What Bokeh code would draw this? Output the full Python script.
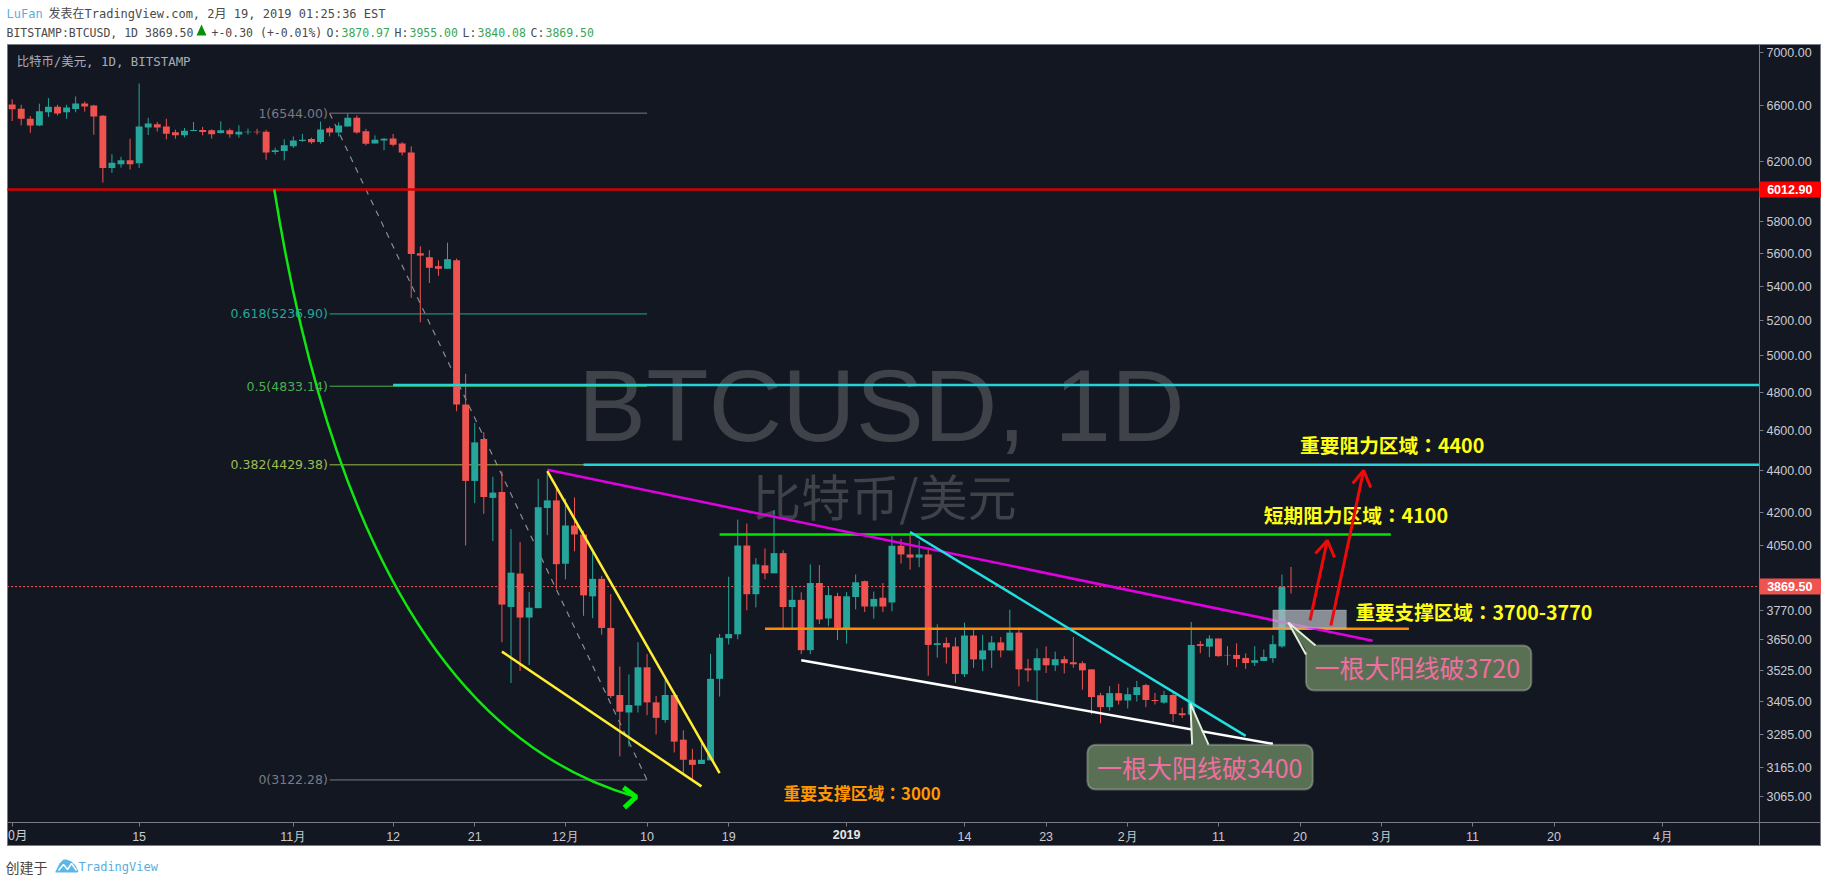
from bokeh.plotting import figure
from bokeh.layouts import column
from bokeh.models import Label, BoxAnnotation, FixedTicker, NumeralTickFormatter
from bokeh.embed import file_html
from bokeh.resources import INLINE

# ---------- data ----------
open_ = [6608,6576,6503,6455,6550,6590,6550,6575,6614,6599,6526,6158,6183,6210,6190,6441,6463,6448,6407,6385,
         6416,6423,6421,6402,6421,6390,6407,6410,6410,6268,6275,6308,6345,6359,6338,6436,6405,6448,6510,6414,
         6328,6349,6363,6328,6265,5601,5577,5522,5506,5558,4736,4351,4558,4270,4298,3783,3926,3739,3778,4222,
         4258,3969,4141,4100,3828,3903,3696,3431,3365,3391,3538,3403,3337,3431,3265,3193,3178,3191,3493,3654,
         3670,4050,3837,3962,3927,4016,3783,3813,3606,3885,3735,3829,3693,3825,3893,3785,3822,3802,4049,4010,
         3996,4010,3627,3635,3621,3511,3665,3569,3605,3637,3605,3677,3534,3526,3574,3546,3570,3558,3554,3530,
         3430,3385,3438,3410,3431,3469,3412,3402,3431,3362,3357,3630,3620,3653,3587,3587,3575,3556,3563,3574,
         3621,3870.97]
high = [6645,6605,6523,6613,6654,6605,6605,6666,6629,6605,6530,6252,6234,6361,6763,6510,6480,6503,6425,6437,
        6480,6445,6428,6485,6433,6456,6433,6431,6424,6298,6357,6377,6395,6368,6483,6448,6478,6540,6527,6431,
        6384,6366,6395,6337,6307,5645,5620,5558,5668,5569,4900,4640,4593,4371,4397,4124,4066,3846,4361,4387,
        4314,4266,4272,4118,4024,3916,3838,3541,3510,3638,3591,3427,3489,3434,3299,3232,3258,3591,3671,3912,
        4168,4150,3994,4037,4213,4029,3870,3845,3966,3963,3867,3843,3846,3922,3896,3848,3885,4094,4080,4103,
        4072,4041,3711,3657,3657,3718,3689,3668,3663,3659,3771,3698,3571,3613,3621,3600,3582,3659,3562,3530,
        3439,3465,3474,3459,3485,3474,3439,3447,3439,3383,3721,3643,3666,3653,3622,3633,3593,3622,3609,3666,
        3922,3955]
low = [6487,6456,6403,6450,6516,6527,6503,6550,6555,6389,6059,6124,6160,6147,6158,6387,6412,6356,6361,6371,
       6416,6385,6361,6397,6368,6368,6390,6390,6214,6251,6210,6296,6338,6325,6326,6377,6377,6448,6396,6314,
       6328,6280,6307,6244,5331,5188,5420,5463,5506,4701,4050,4245,4195,4070,3638,3477,3524,3547,3778,4097,
       3858,3901,4024,3746,3736,3668,3420,3205,3240,3365,3355,3284,3327,3219,3142,3123,3178,3191,3425,3629,
       3650,3769,3781,3901,3927,3689,3692,3590,3590,3712,3703,3647,3632,3773,3762,3734,3762,3765,3970,3943,
       3954,3505,3576,3553,3478,3500,3536,3523,3536,3577,3605,3464,3482,3406,3516,3523,3514,3536,3451,3358,
       3325,3372,3395,3380,3406,3385,3395,3398,3330,3345,3345,3594,3578,3580,3546,3539,3532,3543,3563,3556,
       3616,3840.08]
close = [6572,6503,6455,6557,6590,6541,6585,6614,6592,6519,6158,6194,6210,6183,6448,6470,6441,6396,6385,6418,
         6423,6409,6392,6421,6392,6411,6411,6407,6265,6280,6315,6349,6354,6336,6427,6405,6455,6510,6405,6326,
         6354,6361,6319,6265,5597,5587,5512,5506,5565,4736,4351,4541,4274,4295,3793,3930,3739,3780,4226,4258,
         3967,4141,4100,3832,3903,3696,3427,3368,3393,3538,3403,3345,3431,3258,3193,3175,3193,3493,3656,3671,
         4050,3837,3966,3927,4016,3783,3813,3606,3885,3731,3833,3697,3828,3888,3785,3817,3785,4049,4010,3996,
         4010,3627,3634,3617,3512,3665,3569,3605,3637,3605,3677,3530,3526,3574,3546,3570,3554,3550,3526,3423,
         3385,3438,3410,3434,3461,3412,3408,3431,3359,3355,3627,3623,3653,3582,3585,3571,3555,3566,3579,3630,
         3868,3869.5]

price_ticks = [7000,6600,6200,5800,5600,5400,5200,5000,4800,4600,4400,4200,4050,3885,3770,3650,3525,3405,3285,3165,3065]
day_ticks = [0,14,31,42,51,61,70,79,92,105,114,123,133,142,151,161,170,182]
day_labels = ["","15","11月","12","21","12月","10","19","","14","23","2月","11","20","3月","11","20","4月"]

fib_levels = [6544.00,5236.90,4833.14,4429.38,3122.28]
fib_names = ["1(6544.00)","0.618(5236.90)","0.5(4833.14)","0.382(4429.38)","0(3122.28)"]
fib_colors = ["#787b86","#26a69a","#4caf50","#9bbf4a","#787b86"]
fib_days = [35,70]

BG = "#131722"; UP = "#26a69a"; DOWN = "#ef5350"; AX = "#787b86"; TICK = "#c8cbd1"
MONO = "DejaVu Sans Mono, Noto Sans CJK SC"
SANS = "Liberation Sans"
CJK = "Noto Sans CJK SC"
CJKT = "Noto Sans CJK TC"
AXIS_DAY = 192.65
AXIS_PRICE = 2978

p = figure(width=1814, height=802, x_range=(-0.514,199.49), y_range=(2900,7062),
           y_axis_type="log", y_axis_location="right", output_backend="svg", toolbar_location=None,
           min_border=0, min_border_left=0, min_border_right=0, min_border_top=0, min_border_bottom=0,
           background_fill_color=BG, border_fill_color=BG, outline_line_color=AX,
           margin=(0,0,0,7))
p.grid.visible = False

p.xaxis.ticker = FixedTicker(ticks=day_ticks)
p.xaxis.major_label_overrides = dict(zip(day_ticks, day_labels))
p.yaxis.ticker = FixedTicker(ticks=price_ticks)
p.yaxis.formatter = NumeralTickFormatter(format="0.00")
p.xaxis.fixed_location = AXIS_PRICE
p.yaxis.fixed_location = AXIS_DAY
for ax in (p.xaxis[0], p.yaxis[0]):
    ax.axis_line_color = AX
    ax.major_tick_line_color = AX
    ax.major_tick_in = 0
    ax.major_tick_out = 4
    ax.minor_tick_line_color = None
    ax.major_label_text_color = TICK
    ax.major_label_text_font = SANS
    ax.major_label_text_font_size = "12.5px"
    ax.major_label_standoff = 3

def txt(fig, text, x, y, color, size, font=MONO, style="normal", align="left", level="annotation"):
    fig.add_layout(Label(x=x, y=y, text=text, text_color=color,
                         text_font=font, text_font_size=size, text_font_style=style,
                         text_align=align, text_baseline="middle", level=level))

def dline(xs, ys, color, width=2.5, level="glyph"):
    p.line(xs, ys, line_color=color, line_width=width, level=level)

# watermark
txt(p, "BTCUSD, 1D", 62.4, 4727, "#3f4248", "102px", SANS, level="underlay")
txt(p, "比特币/美元", 81.6, 4285, "#3f4248", "49px", CJK, level="underlay")

# fibonacci thin lines + dashed diagonal (below candles)
p.line([fib_days[0], fib_days[1]], [fib_levels[0], fib_levels[-1]], line_color="#8a8d96", line_dash=[6,6], line_width=1.2)
for lv, name, col in zip(fib_levels, fib_names, fib_colors):
    p.line(fib_days, [lv, lv], line_color=col, line_width=1)
    txt(p, name, 34.8, lv, col, "12.5px", "DejaVu Sans", align="right")

# last price dotted
p.line([-1,AXIS_DAY], [close[-1], close[-1]], line_color="#ff5a5a", line_width=1, line_dash=[2,2])

# candles
days = list(range(len(close)))
cols = [UP if c >= o else DOWN for o, c in zip(open_, close)]
p.segment(days, high, days, low, line_color=cols, line_width=1)
p.vbar(days, width=0.76, top=[max(o,c) for o,c in zip(open_,close)],
       bottom=[min(o,c) for o,c in zip(open_,close)], fill_color=cols, line_color=cols, line_width=0)

# horizontal levels
dline([-1,AXIS_DAY],[6012.9,6012.9],"#d40000")
dline([42,AXIS_DAY],[4840,4840],"#22d3d8")
dline([63,AXIS_DAY],[4430,4430],"#22d3d8")
dline([78,152],[4100,4100],"#00e600")
dline([83,154],[3693,3693],"#ff8c00")
# trend lines
dline([59,150],[4405,3644],"#e000e0")
dline([99,136],[4111,3279],"#20e0e0")
dline([87,139],[3566,3250],"#ffffff")
dline([59,78],[4398,3146],"#ffee33")
dline([54,76],[3600,3100],"#ffee33")
# green arc
p.quadratic(x0=[28.9], y0=[6012], x1=[68.8], y1=[3064], cx=[38.2], cy=[3342], line_color="#10e610", line_width=2.5)
dline([67.4,68.8,67.5],[3096,3064,3028],"#00f000",width=5)

# zone box
p.add_layout(BoxAnnotation(left=139,right=147.1,top=3770,bottom=3695,fill_color="#b2b5be",fill_alpha=0.75,line_color="#d1d4dc",line_width=1))

# callouts
CF="#5a7055"; CL="#e3efdc"; CT="#ee6fa0"
p.add_layout(BoxAnnotation(left=118.55,right=143.4,top=3247,bottom=3089,fill_color=CF,fill_alpha=1,line_color=CL,line_width=2,border_radius=8))
p.add_layout(BoxAnnotation(left=142.65,right=167.5,top=3625,bottom=3448,fill_color=CF,fill_alpha=1,line_color=CL,line_width=2,border_radius=8))
p.patch([129.9,130.1,131.9],[3399,3236,3236],fill_color=CF,line_color=None,level="overlay")
dline([130.1,129.9,131.9],[3247,3399,3247],CL,2,level="overlay")
p.patch([140.7,142.9,144.0,143.7],[3718,3589,3610,3625],fill_color=CF,line_color=None,level="overlay")
dline([142.65,140.7,143.7],[3589,3718,3625],CL,2,level="overlay")
txt(p,"一根大阳线破3400",119.6,3168,CT,"25px",CJK)
txt(p,"一根大阳线破3720",143.6,3538,CT,"25px",CJK)

# red arrows
RED="#ee0a0a"
dline([143.1,145],[3727,4073],RED,3,level="overlay")
dline([143.7,145,145.8],[4014,4073,3997],RED,3,level="overlay")
dline([145.4,149],[3706,4402],RED,3,level="overlay")
dline([147.8,149,149.8],[4339,4402,4319],RED,3,level="overlay")

# labels
YEL="#ffff14"
txt(p,"重要阻力区域：4400",142,4530,YEL,"19.7px",CJKT,"bold")
txt(p,"短期阻力区域：4100",138,4192,YEL,"19.7px",CJKT,"bold")
txt(p,"重要支撑区域：3700-3770",148.1,3765,YEL,"19.6px",CJKT,"bold")
txt(p,"重要支撑区域：3000",85.05,3079,"#ff9800","16.8px",CJKT,"bold")

# price tags
for val, col, label in [(6012.9,"#ff0000","6012.90"),(3869.5,DOWN,"3869.50")]:
    p.add_layout(BoxAnnotation(left=AXIS_DAY,right=199.49,top=val*1.0089,bottom=val/1.0089,fill_color=col,fill_alpha=1,line_color=None))
    txt(p,label,193.5,val,"white","12.5px",SANS,"bold")

# axis extras
txt(p,"0月",-0.45,2939,TICK,"12.5px",CJK)
txt(p,"2019",92,2939,"#e8e8e8","12.5px",SANS,"bold",align="center")

# pane title
txt(p,"比特币/美元, 1D, BITSTAMP",0.5,6930,"#a9acb4","12.4px")

def blank(h, y0):
    f = figure(width=1821, height=h, x_range=(0,1821), y_range=(y0+h,y0), x_axis_location=None, y_axis_location=None,
               output_backend="svg", toolbar_location=None, min_border=0, background_fill_color="white",
               border_fill_color="white", outline_line_color=None)
    f.grid.visible = False
    return f

# header rows
head = blank(44, 0)
HG="#3aa655"; HK="#4a4a4a"
txt(head,"LuFan",6,13,"#5aaedc","12px")
txt(head,"发表在TradingView.com, 2月 19, 2019 01:25:36 EST",48,13,HK,"12px")
txt(head,"BITSTAMP:BTCUSD, 1D 3869.50",6,32,HK,"11.5px")
head.patch([201,196,206],[24,35,35],fill_color="#0a8f0a",line_color=None)
txt(head,"+-0.30 (+-0.01%)",211,32,HK,"11.5px")
for name,val,x in [("O:","3870.97",326),("H:","3955.00",394),("L:","3840.08",462),("C:","3869.50",530)]:
    txt(head,name,x,32,HK,"11.5px")
    txt(head,val,x+15,32,HG,"11.5px")

# footer
foot = blank(29, 846)
txt(foot,"创建于",5,866,"#444444","14px",CJK)
foot.patch([55,59,63,66,71,75,78,77,55],[871,863,859,859,861,865,871,872,872],fill_color="#5ab8e8",line_color=None)
foot.line([58,63,67,71,76],[870,864,869,863,870],line_color="white",line_width=1.5)
txt(foot,"TradingView",78,866,"#5aaedc","12px")

page = column(head, p, foot, spacing=0)
open("out.html","w").write(file_html(page, INLINE))
